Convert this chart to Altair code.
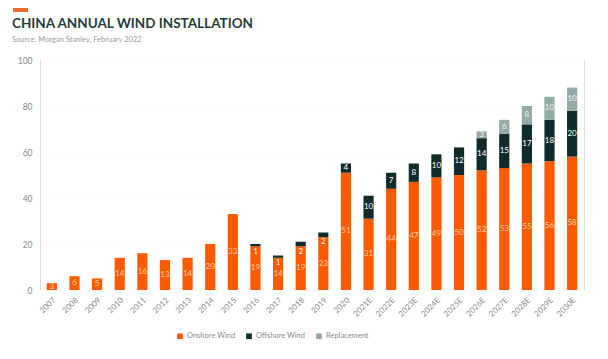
import altair as alt
import pandas as pd

years = ["2007", "2008", "2009", "2010", "2011", "2012", "2013", "2014", "2015",
         "2016", "2017", "2018", "2019", "2020", "2021E", "2022E", "2023E", "2024E",
         "2025E", "2026E", "2027E", "2028E", "2029E", "2030E"]
onshore = [3, 6, 5, 14, 16, 13, 14, 20, 33, 19, 14, 19, 23, 51, 31, 44, 47, 49, 50, 52, 53, 55, 56, 58]
offshore = [0, 0, 0, 0, 0, 0, 0, 0, 0, 1, 1, 2, 2, 4, 10, 7, 8, 10, 12, 14, 15, 17, 18, 20]
replacement = [0, 0, 0, 0, 0, 0, 0, 0, 0, 0, 0, 0, 0, 0, 0, 0, 0, 0, 0, 3, 6, 8, 10, 10]

series = ["Onshore Wind", "Offshore Wind", "Replacement"]
colors = ["#ff5a00", "#0f2b2c", "#93aba6"]

title_text = ["CHINA ANNUAL WIND INSTALLATION"]
subtitle_text = ["Source: Morgan Stanley, February 2022"]

rows = []
for i, y in enumerate(years):
    base = 0
    for k, (name, vals) in enumerate(zip(series, [onshore, offshore, replacement])):
        v = vals[i]
        if v > 0:
            if k == 1 and v < 3:
                ly = base - 2.3
            else:
                ly = base + v / 2
            rows.append({"year": y, "series": name, "order": k, "value": v,
                         "y0": base, "y1": base + v, "ly": ly, "label": str(v)})
        base += v
df = pd.DataFrame(rows)

font = "Lato"
xenc = alt.X("year:N", sort=years, title=None,
             scale=alt.Scale(paddingInner=0.55, paddingOuter=0.3),
             axis=alt.Axis(labelAngle=-45, labelFontSize=8, labelColor="#8a8a8a",
                           ticks=False, domain=False, labelPadding=6, labelFont=font))

bars = alt.Chart(df).mark_bar().encode(
    x=xenc,
    y=alt.Y("y0:Q", title=None, scale=alt.Scale(domain=[0, 100]),
            axis=alt.Axis(values=list(range(0, 101, 10)), labelFontSize=8.5,
                          labelColor="#8a8a8a", ticks=False, domain=False,
                          gridColor="#fbfbfb", gridWidth=1, labelPadding=8,
                          labelFont=font)),
    y2="y1:Q",
    color=alt.Color("series:N", sort=series,
                    scale=alt.Scale(domain=series, range=colors),
                    legend=alt.Legend(orient="none", legendX=136, legendY=272,
                                      direction="horizontal", title=None,
                                      symbolType="square", symbolSize=32,
                                      labelFontSize=7.5, labelColor="#8a8a8a",
                                      labelFont=font, columnPadding=9,
                                      labelOffset=3)),
)

text = alt.Chart(df).mark_text(fontSize=8, font=font, baseline="middle").encode(
    x=alt.X("year:N", sort=years),
    y=alt.Y("ly:Q"),
    text="label:N",
    color=alt.Color("series:N", scale=alt.Scale(domain=series,
                    range=["#ffcfae", "#ffffff", "#eef3f2"]), legend=None),
)

dash = alt.Chart(df).mark_rule(color="#f26a2e", strokeWidth=2.5).encode(
    x=alt.value(-27), x2=alt.value(-12), y=alt.value(-50)
)

title = alt.Chart(pd.DataFrame({"t": title_text})).mark_text(
    align="left", baseline="alphabetic", font=font, fontSize=13.5, fontWeight="bold",
    color="#1f3d3b"
).encode(text="t:N", x=alt.value(-28), y=alt.value(-32))

subtitle = alt.Chart(pd.DataFrame({"t": subtitle_text})).mark_text(
    align="left", baseline="alphabetic", font=font, fontSize=7.5, color="#9a9a9a"
).encode(text="t:N", x=alt.value(-28), y=alt.value(-18))

chart = alt.layer(bars, text, dash, title, subtitle).resolve_scale(color="independent").properties(
    width=544, height=230,
    padding={"left": 32, "top": 52, "right": 16, "bottom": 69},
    autosize=alt.AutoSizeParams(type="none"),
).configure_view(fill="#f2f2f2", stroke=None).configure(background="white")

chart.save("out.html", embed_options={"renderer": "svg", "actions": False})
